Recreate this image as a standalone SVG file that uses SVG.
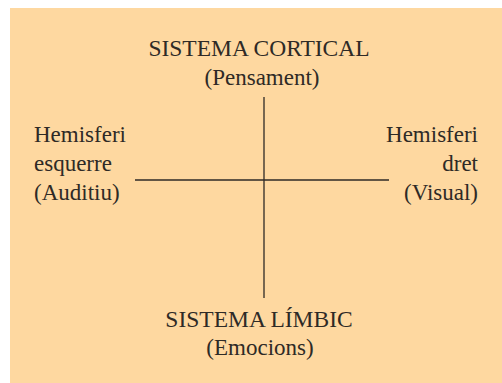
<svg xmlns="http://www.w3.org/2000/svg" width="502" height="383" viewBox="0 0 502 383">
<style>
text{font-family:"Liberation Serif","DejaVu Serif",serif;fill:#2e2a26;font-size:23px}
.k{font-size:23.5px}
.c{text-anchor:middle}
.r{text-anchor:end}
.ln{stroke:#2e2a26;stroke-width:1.3;fill:none}
</style>
<rect width="502" height="383" fill="#ffffff"/>
<rect x="10" y="8" width="492" height="375" fill="#fed8a0"/>
<g id="connectors">
<line class="ln" x1="264" y1="97" x2="264" y2="298"/>
<line class="ln" x1="135" y1="180" x2="389" y2="180"/>
</g>
<g id="cortical">
<text class="c k" x="259" y="56">SISTEMA CORTICAL</text>
<text class="c" x="262" y="85">(Pensament)</text>
</g>
<g id="esquerre">
<text x="34" y="142">Hemisferi</text>
<text x="34" y="171">esquerre</text>
<text x="34" y="200">(Auditiu)</text>
</g>
<g id="dret">
<text class="r" x="478" y="142">Hemisferi</text>
<text class="r" x="478" y="171">dret</text>
<text class="r" x="478" y="200">(Visual)</text>
</g>
<g id="limbic">
<text class="c k" x="259" y="327">SISTEMA LÍMBIC</text>
<text class="c" x="260" y="355">(Emocions)</text>
</g>
</svg>
